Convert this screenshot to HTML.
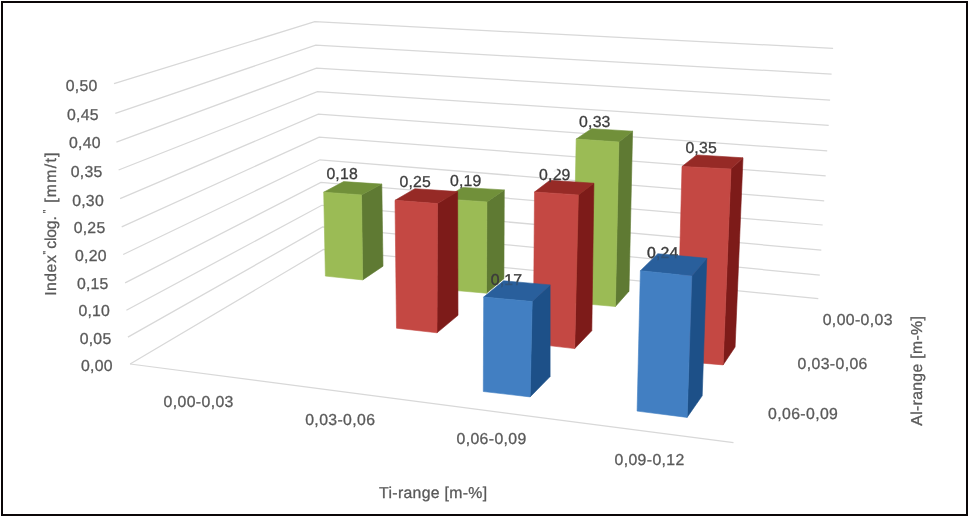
<!DOCTYPE html>
<html><head><meta charset="utf-8"><title>chart</title>
<style>
html,body{margin:0;padding:0;background:#fff;}
body{width:971px;height:518px;overflow:hidden;position:relative;font-family:"Liberation Sans",sans-serif;}
#frame{position:absolute;left:1px;top:1px;width:963px;height:511px;border:2px solid #0b0708;}
svg{position:absolute;left:0;top:0;will-change:transform;filter:blur(0.3px);}
text{font-family:"Liberation Sans",sans-serif;font-size:15.8px;text-rendering:geometricPrecision;}
.ax{fill:#595959;stroke:#595959;stroke-width:0.3px;}
.dl{fill:#3c3c3c;stroke:#3c3c3c;stroke-width:0.3px;}
.grid *{fill:none;stroke:#d8d8d8;stroke-width:1.25;}
</style></head><body>
<div id="frame"></div>
<svg width="971" height="518" viewBox="0 0 971 518">
<defs><filter id="bl" x="-50%" y="-50%" width="200%" height="200%"><feGaussianBlur stdDeviation="0.7"/></filter></defs>
<g class="grid">
<polyline points="114.0,83.7 314.8,21.7 833.1,48.4"/>
<polyline points="115.3,113.4 315.7,45.2 831.6,74.1"/>
<polyline points="116.4,142.1 316.5,68.1 830.1,100.1"/>
<polyline points="118.6,170.0 317.4,91.6 828.7,125.4"/>
<polyline points="120.1,198.6 318.3,114.2 827.2,150.8"/>
<polyline points="121.7,226.9 319.2,137.1 825.7,175.8"/>
<polyline points="123.2,254.5 320.0,159.8 824.2,200.8"/>
<polyline points="125.1,282.9 320.9,182.4 822.7,225.0"/>
<polyline points="126.4,310.2 321.8,205.3 821.3,250.1"/>
<polyline points="127.9,337.1 322.6,227.0 819.8,275.1"/>
<polyline points="130.1,364.0 323.5,249.5 818.3,298.7"/>
<line x1="130.1" y1="364.0" x2="733.5" y2="442.7"/>
</g>
<g>
<polygon points="361.5,194.9 381.8,184.1 383.0,266.2 362.7,279.9" fill="#5f7a33" stroke="#5f7a33" stroke-width="0.6" stroke-linejoin="round"/>
<polygon points="323.7,192.2 343.6,181.6 381.8,184.1 361.5,194.9" fill="#71903a" stroke="#71903a" stroke-width="0.6" stroke-linejoin="round"/>
<polygon points="323.7,192.2 361.5,194.9 362.7,279.9 325.4,276.1" fill="#9bbb55" stroke="#9bbb55" stroke-width="0.6" stroke-linejoin="round"/>
<polygon points="486.9,201.9 504.3,189.9 503.9,278.7 486.5,293.2" fill="#5f7a33" stroke="#5f7a33" stroke-width="0.6" stroke-linejoin="round"/>
<polygon points="444.0,198.9 462.4,187.4 504.3,189.9 486.9,201.9" fill="#71903a" stroke="#71903a" stroke-width="0.6" stroke-linejoin="round"/>
<polygon points="444.0,198.9 486.9,201.9 486.5,293.2 445.0,289.6" fill="#9bbb55" stroke="#9bbb55" stroke-width="0.6" stroke-linejoin="round"/>
<polygon points="618.9,142.0 632.6,131.2 629.0,291.2 615.4,306.5" fill="#5f7a33" stroke="#5f7a33" stroke-width="0.6" stroke-linejoin="round"/>
<polygon points="576.2,139.0 591.6,128.7 632.6,131.2 618.9,142.0" fill="#71903a" stroke="#71903a" stroke-width="0.6" stroke-linejoin="round"/>
<polygon points="576.2,139.0 618.9,142.0 615.4,306.5 573.0,302.8" fill="#9bbb55" stroke="#9bbb55" stroke-width="0.6" stroke-linejoin="round"/>
<polygon points="437.5,203.6 457.6,191.6 458.0,315.3 437.0,332.8" fill="#7d1b19" stroke="#7d1b19" stroke-width="0.6" stroke-linejoin="round"/>
<polygon points="395.0,200.3 414.9,188.7 457.6,191.6 437.5,203.6" fill="#962a26" stroke="#962a26" stroke-width="0.6" stroke-linejoin="round"/>
<polygon points="395.0,200.3 437.5,203.6 437.0,332.8 396.5,328.2" fill="#c44843" stroke="#c44843" stroke-width="0.6" stroke-linejoin="round"/>
<polygon points="578.4,194.9 593.9,183.2 591.8,330.7 574.7,348.6" fill="#7d1b19" stroke="#7d1b19" stroke-width="0.6" stroke-linejoin="round"/>
<polygon points="534.5,192.0 549.9,180.3 593.9,183.2 578.4,194.9" fill="#962a26" stroke="#962a26" stroke-width="0.6" stroke-linejoin="round"/>
<polygon points="534.5,192.0 578.4,194.9 574.7,348.6 533.3,343.8" fill="#c44843" stroke="#c44843" stroke-width="0.6" stroke-linejoin="round"/>
<polygon points="731.0,169.0 743.0,157.8 735.1,347.0 723.1,364.9" fill="#7d1b19" stroke="#7d1b19" stroke-width="0.6" stroke-linejoin="round"/>
<polygon points="682.0,166.5 696.6,154.9 743.0,157.8 731.0,169.0" fill="#962a26" stroke="#962a26" stroke-width="0.6" stroke-linejoin="round"/>
<polygon points="682.0,166.5 731.0,169.0 723.1,364.9 677.0,361.0" fill="#c44843" stroke="#c44843" stroke-width="0.6" stroke-linejoin="round"/>
<text x="490.8" y="284.5" class="dl" textLength="31.3">0,17</text>
<text x="647.0" y="258.3" class="dl" textLength="31.3">0,24</text>
<polygon points="532.2,301.5 550.1,284.9 550.1,376.6 530.1,396.9" fill="#1d5088" stroke="#1d5088" stroke-width="0.6" stroke-linejoin="round"/>
<polygon points="483.7,297.0 503.6,280.8 550.1,284.9 532.2,301.5" fill="#295f9c" stroke="#295f9c" stroke-width="0.6" stroke-linejoin="round"/>
<polygon points="483.7,297.0 532.2,301.5 530.1,396.9 483.3,391.5" fill="#427fc2" stroke="#427fc2" stroke-width="0.6" stroke-linejoin="round"/>
<polygon points="691.8,276.1 706.8,258.3 702.2,395.8 687.1,417.4" fill="#1d5088" stroke="#1d5088" stroke-width="0.6" stroke-linejoin="round"/>
<polygon points="640.4,270.7 657.8,253.7 706.8,258.3 691.8,276.1" fill="#295f9c" stroke="#295f9c" stroke-width="0.6" stroke-linejoin="round"/>
<polygon points="640.4,270.7 691.8,276.1 687.1,417.4 637.1,411.1" fill="#427fc2" stroke="#427fc2" stroke-width="0.6" stroke-linejoin="round"/>
</g>
<g>
<text x="65.8" y="90.6" class="ax" textLength="31.5">0,50</text>
<text x="67.0" y="120.1" class="ax" textLength="31.5">0,45</text>
<text x="69.0" y="148.2" class="ax" textLength="31.5">0,40</text>
<text x="70.8" y="177.0" class="ax" textLength="31.5">0,35</text>
<text x="72.2" y="205.5" class="ax" textLength="31.5">0,30</text>
<text x="73.7" y="233.2" class="ax" textLength="31.5">0,25</text>
<text x="75.0" y="261.3" class="ax" textLength="31.5">0,20</text>
<text x="76.9" y="289.1" class="ax" textLength="31.5">0,15</text>
<text x="78.4" y="316.4" class="ax" textLength="31.5">0,10</text>
<text x="79.7" y="343.6" class="ax" textLength="31.5">0,05</text>
<text x="81.0" y="370.5" class="ax" textLength="31.5">0,00</text>
<text x="163.6" y="406.8" class="ax" textLength="69.8">0,00-0,03</text>
<text x="305.2" y="424.8" class="ax" textLength="69.8">0,03-0,06</text>
<text x="456.5" y="443.8" class="ax" textLength="69.8">0,06-0,09</text>
<text x="614.5" y="465.2" class="ax" textLength="69.8">0,09-0,12</text>
<text x="822.7" y="325.0" class="ax" textLength="69.8">0,00-0,03</text>
<text x="797.6" y="368.9" class="ax" textLength="69.8">0,03-0,06</text>
<text x="768.1" y="419.1" class="ax" textLength="69.8">0,06-0,09</text>
<text x="326.4" y="179.2" class="dl" textLength="31.3">0,18</text>
<text x="399.5" y="187.4" class="dl" textLength="31.3">0,25</text>
<text x="450.0" y="186.2" class="dl" textLength="31.3">0,19</text>
<text x="490.8" y="284.5" class="dl" textLength="31.3" opacity="0.35">0,17</text>
<text x="539.1" y="179.5" class="dl" textLength="31.3">0,29</text>
<text x="579.1" y="127.0" class="dl" textLength="31.3">0,33</text>
<text x="685.4" y="153.4" class="dl" textLength="31.3">0,35</text>
<text x="647.0" y="258.3" class="dl" textLength="31.3" opacity="0.35">0,24</text>
<ellipse cx="553.9" cy="172.4" rx="2.7" ry="5.6" fill="#fff" opacity="0.92" transform="rotate(22 553.9 172.4)" filter="url(#bl)"/>
<text x="379.1" y="498.2" class="ax" textLength="108">Ti-range [m-%]</text>
<g transform="translate(56.0,295.8) rotate(-90)" class="ax"><text x="0" y="0" textLength="40.6">Index</text><text x="41.3" y="-6.0" style="font-size:10px" textLength="3.6">"</text><text x="47.0" y="0" textLength="32.6">clog.</text><text x="82.6" y="-6.0" style="font-size:10px" textLength="3.6">"</text><text x="93.0" y="0" textLength="50.3">[mm/t]</text></g>
<text transform="translate(921.9,425.7) rotate(-90)" class="ax" textLength="109.5">Al-range [m-%]</text>
</g>
</svg>
</body></html>
